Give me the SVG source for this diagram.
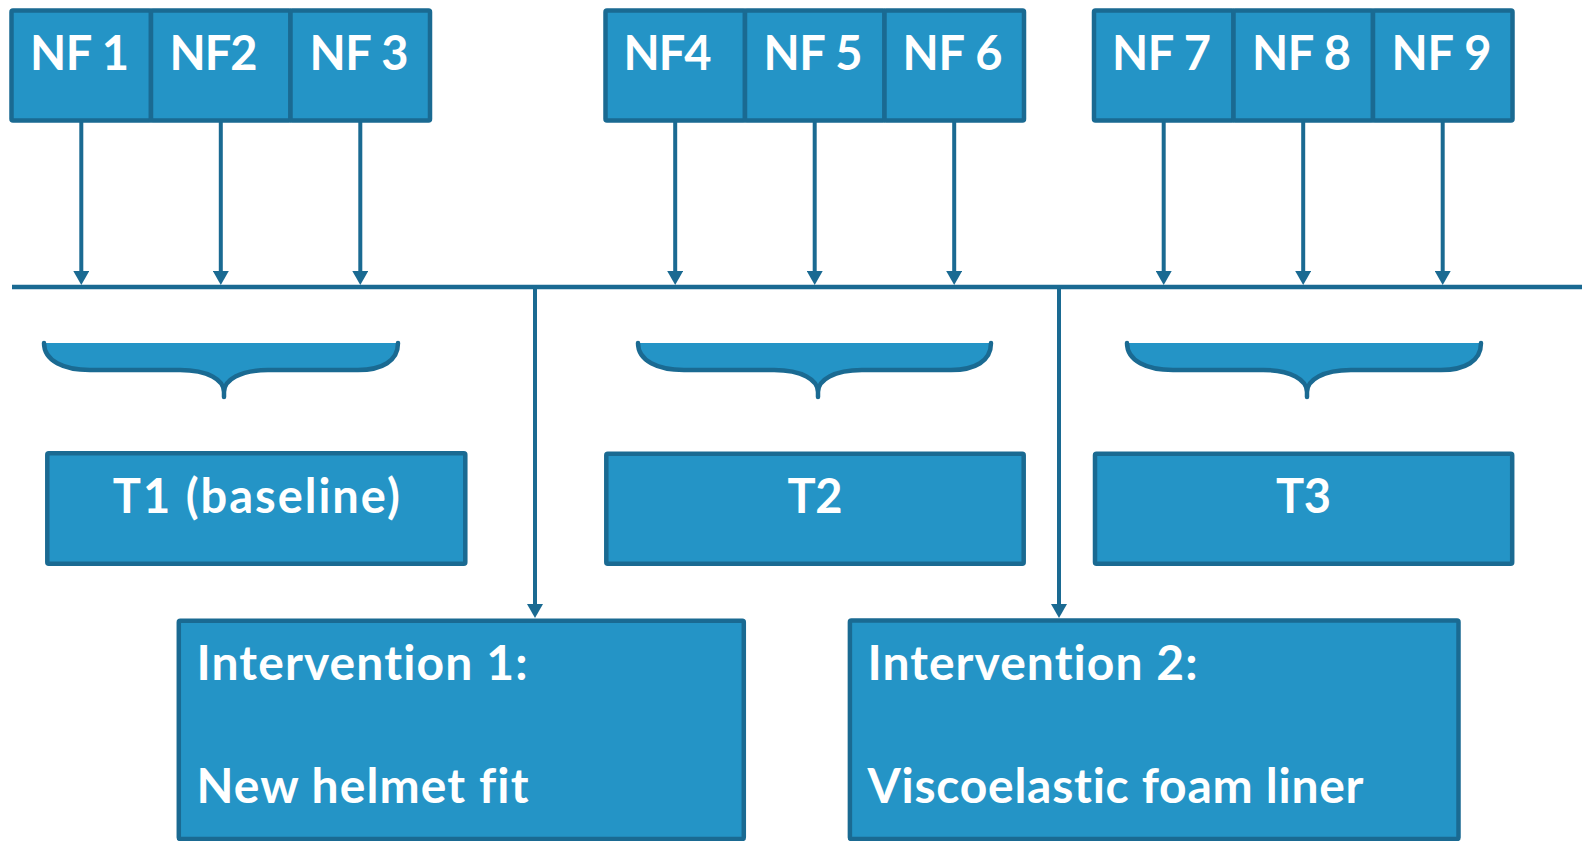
<svg xmlns="http://www.w3.org/2000/svg" width="1582" height="841" viewBox="0 0 1582 841">
<style>
.box{fill:#2494C6;stroke:#1A6A92;stroke-width:4.5;}
.lbl{font-family:Lato,"Open Sans","Liberation Sans",sans-serif;font-weight:700;fill:#FFFFFF;font-size:47px;font-variant-ligatures:none;font-feature-settings:"liga" 0,"clig" 0;}
.ilbl{font-size:48px;}
.conn{stroke:#1A6A92;fill:none;}
.arr{stroke-width:4;}
.bus{stroke-width:4.4;}
.bfill{fill:#2494C6;stroke:none;}
.bline{fill:none;stroke:#1A6A92;stroke-width:4.5;stroke-linecap:round;stroke-linejoin:round;}
</style>
<defs>
<marker id="ah" viewBox="0 0 14 16" refX="8" refY="8" markerWidth="14" markerHeight="16" markerUnits="userSpaceOnUse" orient="auto">
<path d="M0,0 L14,8 L0,16 Z" fill="#1A6A92"/>
</marker>
</defs>
<rect width="1582" height="841" fill="#FFFFFF"/>

<g id="connectors">
<line class="conn bus" x1="12" y1="287" x2="1582" y2="287"/>
<line class="conn arr" x1="81.3" y1="122" x2="81.3" y2="279" marker-end="url(#ah)"/>
<line class="conn arr" x1="220.8" y1="122" x2="220.8" y2="279" marker-end="url(#ah)"/>
<line class="conn arr" x1="360.3" y1="122" x2="360.3" y2="279" marker-end="url(#ah)"/>
<line class="conn arr" x1="675.2" y1="122" x2="675.2" y2="279" marker-end="url(#ah)"/>
<line class="conn arr" x1="814.7" y1="122" x2="814.7" y2="279" marker-end="url(#ah)"/>
<line class="conn arr" x1="954.2" y1="122" x2="954.2" y2="279" marker-end="url(#ah)"/>
<line class="conn arr" x1="1163.7" y1="122" x2="1163.7" y2="279" marker-end="url(#ah)"/>
<line class="conn arr" x1="1303.2" y1="122" x2="1303.2" y2="279" marker-end="url(#ah)"/>
<line class="conn arr" x1="1442.7" y1="122" x2="1442.7" y2="279" marker-end="url(#ah)"/>
<line class="conn arr" x1="535" y1="287" x2="535" y2="612" marker-end="url(#ah)"/>
<line class="conn arr" x1="1059" y1="287" x2="1059" y2="612" marker-end="url(#ah)"/>
</g>

<g id="nf1"><rect class="box" x="11.5" y="10.5" width="139.5" height="110" rx="1.5"/><text class="lbl" x="30" y="70" textLength="99">NF 1</text></g>
<g id="nf2"><rect class="box" x="151" y="10.5" width="139.5" height="110" rx="1.5"/><text class="lbl" x="169.5" y="70" textLength="88">NF2</text></g>
<g id="nf3"><rect class="box" x="290.5" y="10.5" width="139.5" height="110" rx="1.5"/><text class="lbl" x="309.5" y="70" textLength="99">NF 3</text></g>

<g id="nf4"><rect class="box" x="605.5" y="10.5" width="139.5" height="110" rx="1.5"/><text class="lbl" x="623.5" y="70" textLength="88">NF4</text></g>
<g id="nf5"><rect class="box" x="745" y="10.5" width="139.5" height="110" rx="1.5"/><text class="lbl" x="763.5" y="70" textLength="99">NF 5</text></g>
<g id="nf6"><rect class="box" x="884.5" y="10.5" width="139.5" height="110" rx="1.5"/><text class="lbl" x="902.5" y="70" textLength="100">NF 6</text></g>

<g id="nf7"><rect class="box" x="1094" y="10.5" width="139.5" height="110" rx="1.5"/><text class="lbl" x="1112" y="70" textLength="99">NF 7</text></g>
<g id="nf8"><rect class="box" x="1233.5" y="10.5" width="139.5" height="110" rx="1.5"/><text class="lbl" x="1252" y="70" textLength="99">NF 8</text></g>
<g id="nf9"><rect class="box" x="1373" y="10.5" width="139.5" height="110" rx="1.5"/><text class="lbl" x="1391.5" y="70" textLength="100">NF 9</text></g>

<g id="brace1">
<path class="bfill" d="M44,343 C44,361 64,370 90,370 L180,370 C208,370 224,380 224,392 L224,397 L224,392 C224,380 240,370 268,370 L358,370 C382,370 398,361 398,343 Z"/>
<path class="bline" d="M44,343 C44,361 64,370 90,370 L180,370 C208,370 224,380 224,392 L224,397 L224,392 C224,380 240,370 268,370 L358,370 C382,370 398,361 398,343"/>
</g>
<g id="brace2">
<path class="bfill" d="M638,343 C638,361 658,370 684,370 L774,370 C802,370 818,380 818,392 L818,397 L818,392 C818,380 834,370 862,370 L951,370 C975,370 991,361 991,343 Z"/>
<path class="bline" d="M638,343 C638,361 658,370 684,370 L774,370 C802,370 818,380 818,392 L818,397 L818,392 C818,380 834,370 862,370 L951,370 C975,370 991,361 991,343"/>
</g>
<g id="brace3">
<path class="bfill" d="M1127,343 C1127,361 1147,370 1173,370 L1263,370 C1291,370 1307,380 1307,392 L1307,397 L1307,392 C1307,380 1323,370 1351,370 L1441,370 C1465,370 1481,361 1481,343 Z"/>
<path class="bline" d="M1127,343 C1127,361 1147,370 1173,370 L1263,370 C1291,370 1307,380 1307,392 L1307,397 L1307,392 C1307,380 1323,370 1351,370 L1441,370 C1465,370 1481,361 1481,343"/>
</g>

<g id="t1"><rect class="box" x="47.3" y="453.3" width="418" height="110.5" rx="1.5"/><text class="lbl" x="256.3" y="512.5" text-anchor="middle" textLength="287">T1 (baseline)</text></g>
<g id="t2"><rect class="box" x="606.3" y="453.8" width="417.4" height="110" rx="1.5"/><text class="lbl" x="815" y="512.5" text-anchor="middle" textLength="55">T2</text></g>
<g id="t3"><rect class="box" x="1095" y="453.8" width="417.2" height="110" rx="1.5"/><text class="lbl" x="1303.6" y="512.5" text-anchor="middle" textLength="55">T3</text></g>

<g id="int1"><rect class="box" x="178.8" y="620.7" width="565" height="218.3" rx="1.5"/>
<text class="lbl ilbl" x="196.5" y="680" textLength="331">Intervention 1:</text>
<text class="lbl ilbl" x="196.5" y="802.7" textLength="332">New helmet fit</text></g>
<g id="int2"><rect class="box" x="849.9" y="620.5" width="608.6" height="218.5" rx="1.5"/>
<text class="lbl ilbl" x="867.5" y="680" textLength="330">Intervention 2:</text>
<text class="lbl ilbl" x="867.5" y="802.7" textLength="496">Viscoelastic foam liner</text></g>
</svg>
